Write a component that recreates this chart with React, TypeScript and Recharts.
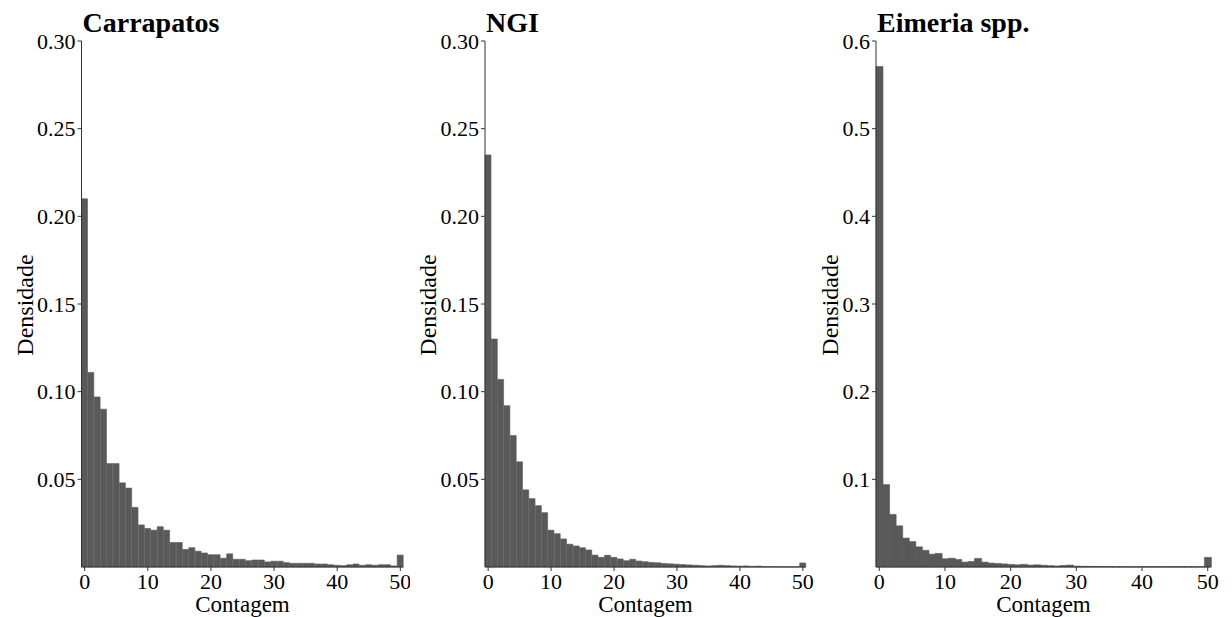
import React from 'react';
import { BarChart, Bar, XAxis, YAxis, Label } from 'recharts';

// counts 0..50 (histogram bins, width 1)
const bins = [
  0, 1, 2, 3, 4, 5, 6, 7, 8, 9, 10, 11, 12, 13, 14, 15, 16, 17, 18, 19, 20, 21, 22, 23, 24, 25,
  26, 27, 28, 29, 30, 31, 32, 33, 34, 35, 36, 37, 38, 39, 40, 41, 42, 43, 44, 45, 46, 47, 48, 49, 50,
];

const carrapatos = [
  0.210, 0.111, 0.097, 0.090, 0.059, 0.059, 0.048, 0.045, 0.034, 0.024, 0.022, 0.021, 0.023,
  0.021, 0.014, 0.014, 0.010, 0.011, 0.009, 0.008, 0.007, 0.007, 0.005, 0.0075, 0.0044, 0.0044,
  0.0036, 0.0040, 0.0040, 0.0029, 0.0033, 0.0033, 0.0025, 0.0021, 0.0021, 0.0021, 0.0021, 0.0017,
  0.0017, 0.0013, 0.0010, 0.0008, 0.0013, 0.0017, 0.0010, 0.0013, 0.0010, 0.0013, 0.0013, 0.0006,
  0.0068,
];

const ngi = [
  0.235, 0.130, 0.107, 0.092, 0.075, 0.060, 0.044, 0.039, 0.035, 0.031, 0.021, 0.019, 0.016,
  0.013, 0.012, 0.011, 0.0097, 0.0068, 0.0055, 0.0067, 0.0055, 0.0046, 0.0036, 0.0044, 0.0034,
  0.0030, 0.0026, 0.0024, 0.0020, 0.0018, 0.0016, 0.0014, 0.0012, 0.0010, 0.0008, 0.0006, 0.0008,
  0.0010, 0.0008, 0.0006, 0.0005, 0.0006, 0.0004, 0.0005, 0.0002, 0.0002, 0.0002, 0.0001, 0.0001,
  0.0001, 0.0023,
];

const eimeria = [
  0.571, 0.094, 0.060, 0.047, 0.033, 0.029, 0.023, 0.019, 0.0146, 0.0155, 0.0094, 0.010, 0.0086,
  0.0056, 0.0063, 0.0098, 0.0056, 0.0045, 0.0040, 0.0035, 0.0030, 0.0025, 0.0030, 0.0022, 0.0025,
  0.0020, 0.0015, 0.0012, 0.0018, 0.0022, 0.0010, 0.0008, 0.0007, 0.0006, 0.0005, 0.0005, 0.0004,
  0.0004, 0.0003, 0.0003, 0.0004, 0.0004, 0.0003, 0.0004, 0.0003, 0.0004, 0.0003, 0.0004, 0.0003,
  0.0003, 0.011,
];

const densityTicks = [0.05, 0.1, 0.15, 0.2, 0.25, 0.3];
const eimeriaTicks = [0.1, 0.2, 0.3, 0.4, 0.5, 0.6];

const FONT = '"Liberation Serif", "Times New Roman", serif';
const AXIS = '#333333';
const BAR = '#595959';

interface PanelProps {
  title: string;
  values: number[];
  ticks: number[];
  yMax: number;
  digits: number;
  left: number;
  width: number;
  plotLeft: number;
  plotRight: number;
  yLabelX: number;
}

const Panel: React.FC<PanelProps> = ({ title, values, ticks, yMax, digits, left, width, plotLeft, plotRight, yLabelX }) => {
  const data = bins.map((b, i) => ({ bin: b, value: values[i] }));
  const yWidth = plotLeft - left;
  const marginRight = left + width - plotRight;
  const cx = (plotLeft + plotRight) / 2 - left;
  const titleX = plotLeft - left + 1;
  const lx = yLabelX - left;

  return (
    <div style={{ position: 'absolute', left, top: 0, width, height: 617 }}>
      <BarChart
        width={width}
        height={617}
        data={data}
        margin={{ top: 41, right: marginRight, bottom: 0, left: 0 }}
        barCategoryGap={0}
        barGap={0}
      >
        <XAxis
          dataKey="bin"
          interval={9}
          height={50}
          tickSize={4}
          tickMargin={2}
          axisLine={{ stroke: AXIS, strokeWidth: 1 }}
          tickLine={{ stroke: AXIS }}
          tick={{ fill: '#000', fontSize: 22, fontFamily: FONT }}
        >
          <Label
            content={() => (
              <text x={cx} y={612} textAnchor="middle" fontSize={23} fontFamily={FONT} fill="#000">
                Contagem
              </text>
            )}
          />
        </XAxis>
        <YAxis
          type="number"
          domain={[0, yMax]}
          ticks={ticks}
          width={yWidth}
          tickSize={4}
          tickMargin={2}
          tickFormatter={(v: number) => v.toFixed(digits)}
          axisLine={{ stroke: AXIS, strokeWidth: 1 }}
          tickLine={{ stroke: AXIS }}
          tick={{ fill: '#000', fontSize: 22, fontFamily: FONT }}
        >
          <Label
            content={() => (
              <g>
                <text
                  x={lx}
                  y={305}
                  transform={`rotate(-90 ${lx} 305)`}
                  textAnchor="middle"
                  dominantBaseline="central"
                  fontSize={24}
                  fontFamily={FONT}
                  fill="#000"
                >
                  Densidade
                </text>
                <text x={titleX} y={32} fontSize={28} fontWeight="bold" fontFamily={FONT} fill="#000">
                  {title}
                </text>
              </g>
            )}
          />
        </YAxis>
        <Bar dataKey="value" fill={BAR} stroke={BAR} strokeWidth={0.6} isAnimationActive={false} />
      </BarChart>
    </div>
  );
};

export default function App() {
  return (
    <div style={{ position: 'absolute', left: 0, top: 0, width: 1232, height: 617, background: '#fff' }}>
      <Panel title="Carrapatos" values={carrapatos} ticks={densityTicks} yMax={0.3} digits={2}
        left={0} width={410} plotLeft={81.5} plotRight={403.5} yLabelX={25} />
      <Panel title="NGI" values={ngi} ticks={densityTicks} yMax={0.3} digits={2}
        left={410} width={410} plotLeft={485} plotRight={806} yLabelX={428} />
      <Panel title="Eimeria spp." values={eimeria} ticks={eimeriaTicks} yMax={0.6} digits={1}
        left={810} width={422} plotLeft={876} plotRight={1211} yLabelX={830} />
    </div>
  );
}
